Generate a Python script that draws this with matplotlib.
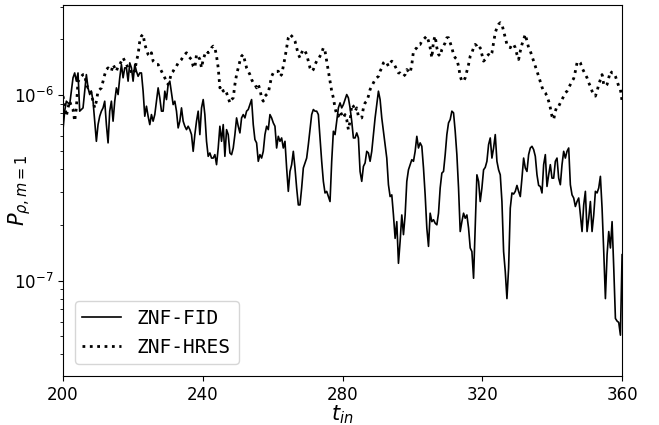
import matplotlib
matplotlib.use("Agg")
import matplotlib.pyplot as plt
import numpy as np

# Power in the m=1 density mode, sampled on a uniform time grid (units of 1e-6)
t_in = np.linspace(200, 360, 336)

p_fid = np.array([
    0.652, 0.820, 0.928, 0.909, 0.890, 1.051, 1.241, 1.318, 1.190, 1.318,
    0.820, 0.837, 0.854, 1.051, 1.291, 1.095, 1.008, 1.051, 0.928, 0.724,
    0.564, 0.694, 0.770, 0.820, 0.854, 0.928, 0.694, 0.553, 0.820, 0.928,
    0.724, 0.928, 1.095, 1.008, 1.241, 1.463, 1.241, 1.404, 1.404, 1.190,
    1.494, 1.404, 1.190, 1.463, 1.346, 1.264,
    1.318, 1.318, 1.051, 0.770, 0.872, 0.770, 0.694, 0.786, 0.724, 0.786,
    0.928, 1.095, 0.967, 0.820, 0.820, 1.051, 0.947, 1.142, 1.190, 1.029,
    0.890, 0.928, 0.820, 0.666, 0.724, 0.854, 0.724, 0.680, 0.652, 0.680,
    0.652, 0.613, 0.498, 0.613, 0.724, 0.820, 0.613, 0.854, 0.947, 0.786,
    0.564, 0.468, 0.488, 0.458, 0.458, 0.478, 0.422, 0.519,
    0.680, 0.564, 0.694, 0.468, 0.652, 0.613, 0.488, 0.478, 0.519, 0.613,
    0.754, 0.680, 0.626, 0.754, 0.786, 0.754, 0.820, 0.837, 0.890, 0.947,
    0.694, 0.576, 0.553, 0.440, 0.478, 0.458, 0.498, 0.613, 0.680, 0.652,
    0.786, 0.754, 0.709, 0.680, 0.519, 0.600, 0.564, 0.588, 0.519, 0.564,
    0.405, 0.303, 0.388, 0.422, 0.498, 0.405, 0.316, 0.256,
    0.256, 0.316, 0.405, 0.431, 0.458, 0.541, 0.652, 0.786, 0.837, 0.820,
    0.820, 0.786, 0.588, 0.440, 0.343, 0.297, 0.303, 0.284, 0.267, 0.440,
    0.639, 0.613, 0.724, 0.854, 0.909, 0.854, 0.890, 0.947, 1.008, 0.967,
    0.854, 0.724, 0.588, 0.588, 0.626, 0.588, 0.388, 0.343, 0.413, 0.431,
    0.498, 0.488, 0.440, 0.498, 0.613, 0.754, 0.890, 1.051,
    0.947, 0.754, 0.639, 0.541, 0.458, 0.329, 0.284, 0.290, 0.226, 0.169,
    0.208, 0.124, 0.163, 0.226, 0.177, 0.226, 0.343, 0.396, 0.422, 0.449,
    0.440, 0.498, 0.600, 0.519, 0.553, 0.530, 0.405, 0.290, 0.192, 0.153,
    0.231, 0.208, 0.213, 0.204, 0.200, 0.231, 0.316, 0.380, 0.388, 0.478,
    0.613, 0.709, 0.739, 0.820, 0.803, 0.639, 0.478, 0.316,
    0.184, 0.208, 0.231, 0.217, 0.226, 0.192, 0.150, 0.1435, 0.103, 0.192,
    0.372, 0.343, 0.267, 0.316, 0.396, 0.408, 0.440, 0.541, 0.588, 0.458,
    0.519, 0.613, 0.440, 0.396, 0.372, 0.267, 0.1435, 0.112, 0.080, 0.117,
    0.246, 0.297, 0.293, 0.303, 0.326, 0.303, 0.284, 0.357, 0.458, 0.405,
    0.388, 0.478, 0.519, 0.530, 0.509, 0.468, 0.372, 0.326,
    0.322, 0.297, 0.422, 0.478, 0.322, 0.372, 0.422, 0.357, 0.357, 0.440,
    0.458, 0.357, 0.329, 0.422, 0.498, 0.458, 0.498, 0.519, 0.329, 0.290,
    0.279, 0.251, 0.267, 0.279, 0.226, 0.184, 0.256, 0.303, 0.184, 0.217,
    0.267, 0.184, 0.226, 0.303, 0.297, 0.316, 0.365, 0.246, 0.1435, 0.080,
    0.138, 0.184, 0.150, 0.208, 0.117, 0.0625, 0.0605, 0.0595, 0.0508, 0.138,
]) * 1e-6

p_hres = np.array([
    0.988, 0.890, 0.770, 0.854, 0.928, 0.872, 0.837, 0.724, 0.854, 1.190,
    1.215, 1.264, 1.291, 1.291, 1.142, 1.095, 1.095, 1.008, 0.928, 0.854,
    0.928, 1.051, 1.073, 1.095, 1.190, 1.291, 1.375, 1.404, 1.375, 1.346,
    1.463, 1.404, 1.346, 1.433, 1.463, 1.526, 1.591, 1.526, 1.463, 1.404,
    1.404, 1.318, 1.375, 1.346, 1.526, 1.658,
    1.958, 2.084, 2.128, 1.878, 1.765, 1.658, 1.624, 1.693, 1.526, 1.494,
    1.463, 1.463, 1.404, 1.346, 1.291, 1.241, 1.190, 1.142, 1.215, 1.318,
    1.346, 1.404, 1.433, 1.494, 1.526, 1.558, 1.624, 1.658, 1.693, 1.624,
    1.591, 1.558, 1.433, 1.404, 1.658, 1.624, 1.558, 1.404, 1.558, 1.658,
    1.729, 1.693, 1.729, 1.802, 1.840, 1.802, 1.624, 1.404,
    1.095, 1.118, 1.051, 1.073, 1.029, 0.967, 0.909, 0.947, 0.967, 1.142,
    1.291, 1.404, 1.526, 1.624, 1.658, 1.526, 1.404, 1.346, 1.291, 1.215,
    1.166, 1.142, 1.095, 1.142, 1.073, 0.967, 0.928, 0.988, 1.008, 1.029,
    1.142, 1.264, 1.318, 1.346, 1.346, 1.346, 1.264, 1.291, 1.433, 1.591,
    1.802, 2.041, 2.128, 2.084, 2.041, 1.958, 1.802, 1.658,
    1.591, 1.693, 1.765, 1.729, 1.658, 1.526, 1.404, 1.346, 1.375, 1.463,
    1.526, 1.558, 1.624, 1.693, 1.802, 1.729, 1.526, 1.346, 1.190, 1.051,
    0.967, 0.854, 0.786, 0.770, 0.820, 0.786, 0.754, 0.786, 0.739, 0.652,
    0.724, 0.890, 0.872, 0.820, 0.854, 0.770, 0.754, 0.754, 0.854, 0.909,
    0.928, 0.988, 1.073, 1.118, 1.166, 1.215, 1.241, 1.264,
    1.346, 1.404, 1.494, 1.526, 1.494, 1.433, 1.494, 1.526, 1.494, 1.433,
    1.375, 1.318, 1.318, 1.291, 1.264, 1.291, 1.375, 1.346, 1.318, 1.463,
    1.729, 1.765, 1.802, 1.878, 1.878, 1.958, 2.000, 2.041, 2.084, 1.958,
    1.802, 1.591, 1.958, 2.084, 1.802, 1.658, 1.624, 1.765, 1.840, 1.918,
    2.041, 2.041, 1.918, 1.802, 1.658, 1.591, 1.558, 1.433,
    1.264, 1.190, 1.190, 1.241, 1.346, 1.463, 1.624, 1.693, 1.802, 1.878,
    1.840, 1.765, 1.802, 1.658, 1.526, 1.558, 1.624, 1.658, 1.624, 1.693,
    1.918, 2.173, 2.312, 2.410, 2.460, 2.410, 2.218, 2.041, 1.878, 1.840,
    1.802, 1.878, 1.878, 1.802, 1.658, 1.558, 1.729, 1.878, 2.000, 2.128,
    1.958, 1.802, 1.729, 1.624, 1.526, 1.433, 1.346, 1.264,
    1.180, 1.105, 1.051, 1.029, 0.988, 0.928, 0.854, 0.770, 0.739, 0.820,
    0.872, 0.872, 0.909, 0.947, 0.988, 1.029, 1.051, 1.095, 1.142, 1.190,
    1.230, 1.346, 1.494, 1.526, 1.494, 1.404, 1.346, 1.291, 1.241, 1.166,
    1.118, 1.051, 1.008, 0.988, 1.051, 1.142, 1.215, 1.291, 1.142, 1.118,
    1.142, 1.241, 1.346, 1.318, 1.318, 1.264, 1.190, 1.118, 1.073, 0.928,
]) * 1e-6

x_ticks = [200, 240, 280, 320, 360]

fig = plt.figure(figsize=(6.59, 4.25), dpi=100)
ax = fig.add_axes([0.0956, 0.1153, 0.8484, 0.8727])

ax.plot(t_in, p_fid, color="black", lw=1.2, ls="-", label="ZNF-FID")       # fiducial run
ax.plot(t_in, p_hres, color="black", lw=2.0, ls=":", label="ZNF-HRES")     # high resolution run

ax.set_yscale("log")
ax.set_xlim(200, 360)
ax.set_ylim(3.06e-8, 3.06e-6)
ax.set_xticks(x_ticks)
ax.tick_params(axis="both", which="major", labelsize=12)

ax.set_xlabel(r"$t_{in}$", fontsize=15)
ax.set_ylabel(r"$P_{\rho,m=1}$", fontsize=15)
ax.xaxis.set_label_coords(0.5, -0.073)
ax.yaxis.set_label_coords(-0.054, 0.5)

ax.legend(loc="lower left", prop={"family": "DejaVu Sans Mono", "size": 14},
          handlelength=2.0, borderaxespad=0.6, framealpha=0.8)

fig.savefig("out.png", dpi=100)
plt.close(fig)
